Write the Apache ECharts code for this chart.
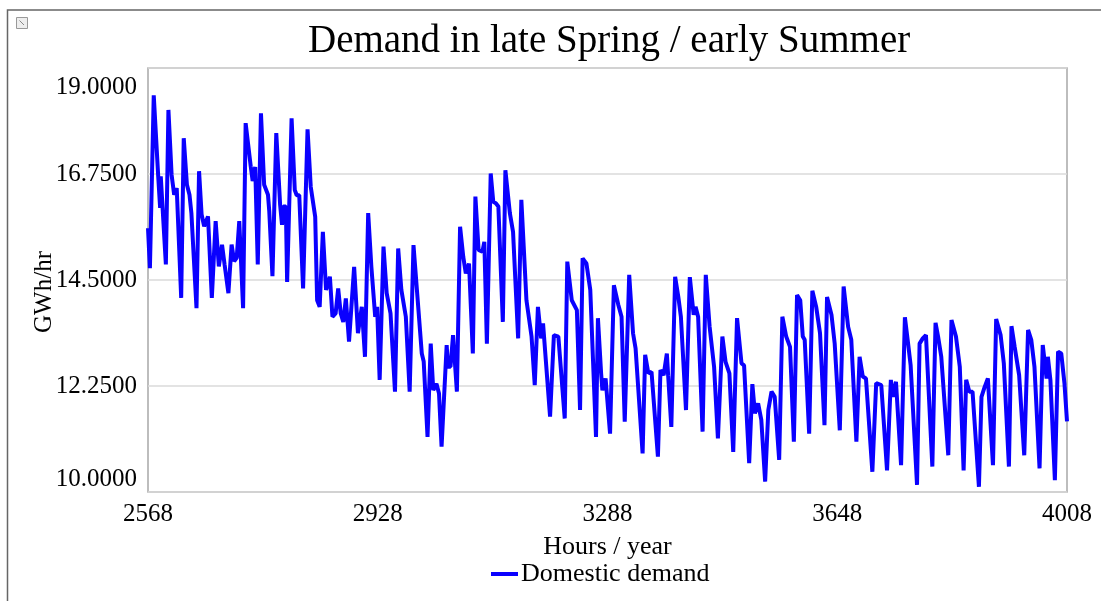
<!DOCTYPE html>
<html>
<head>
<meta charset="utf-8">
<script type="text/javascript" src="https://cdn.jsdelivr.net/npm/echarts@6/dist/echarts.min.js"></script>
<style>
 html, body { margin: 0; padding: 0; background: #fff; }
 #chart { width: 1101px; height: 601px; }
</style>
</head>
<body>
<div id="chart"></div>
<script type="text/javascript">
// hour of year for each point of the trace
var hours = [
 2568, 2571, 2577, 2584, 2587, 2588, 2590, 2596, 2600, 2605, 2609, 2613, 2620, 2624, 2629, 2633,
 2636, 2639, 2644, 2648, 2652, 2656, 2662, 2668, 2674, 2679, 2684, 2688, 2694, 2699, 2703, 2707,
 2711, 2717, 2721, 2729, 2732, 2736, 2740, 2745, 2750, 2756, 2758, 2763, 2769, 2775, 2778, 2780,
 2784, 2786, 2793, 2798, 2801, 2805, 2811, 2818, 2823, 2830, 2833, 2837, 2842, 2847, 2853, 2857,
 2862, 2866, 2870, 2874, 2878, 2883, 2891, 2897, 2903, 2908, 2913, 2918, 2924, 2927, 2931, 2937,
 2942, 2948, 2955, 2960, 2965, 2972, 2978, 2984, 2997, 3000, 3006, 3011, 3015, 3020, 3024, 3028,
 3036, 3038, 3042, 3046, 3052, 3057, 3062, 3066, 3071, 3077, 3081, 3086, 3092, 3095, 3099, 3105,
 3109, 3113, 3117, 3124, 3128, 3135, 3140, 3148, 3153, 3161, 3169, 3174, 3179, 3184, 3187, 3190,
 3198, 3204, 3211, 3213, 3221, 3225, 3232, 3240, 3245, 3249, 3255, 3261, 3270, 3273, 3278, 3280,
 3285, 3292, 3298, 3305, 3310, 3315, 3322, 3328, 3332, 3343, 3347, 3352, 3357, 3367, 3371, 3376,
 3381, 3383, 3388, 3394, 3399, 3403, 3411, 3417, 3423, 3426, 3430, 3437, 3442, 3448, 3455, 3461,
 3468, 3473, 3479, 3485, 3491, 3498, 3502, 3510, 3515, 3519, 3524, 3529, 3535, 3540, 3545, 3550,
 3557, 3562, 3568, 3574, 3580, 3585, 3590, 3594, 3597, 3604, 3609, 3615, 3621, 3628, 3632, 3639,
 3644, 3647, 3652, 3658, 3665, 3670, 3678, 3683, 3688, 3693, 3703, 3709, 3717, 3726, 3732, 3735,
 3740, 3743, 3748, 3754, 3759, 3763, 3773, 3777, 3782, 3787, 3797, 3802, 3806, 3811, 3822, 3827,
 3834, 3840, 3846, 3850, 3855, 3860, 3870, 3874, 3879, 3884, 3892, 3897, 3904, 3909, 3917, 3921,
 3926, 3933, 3941, 3947, 3952, 3957, 3965, 3970, 3976, 3978, 3982, 3989, 3994, 3999, 4004, 4008
];

// domestic demand, GWh/hr
var domesticDemand = [
 15.60, 14.75, 18.42, 16.70, 16.03, 16.70, 16.66, 14.83, 18.11, 16.73, 16.31, 16.45, 14.12, 17.51, 16.52, 16.31,
 15.92, 15.90, 13.90, 16.81, 15.89, 15.64, 15.85, 14.12, 15.75, 14.79, 15.25, 14.83, 14.22, 15.25, 14.90, 14.97,
 15.75, 13.90, 17.83, 16.91, 16.60, 16.90, 14.83, 18.04, 16.52, 16.31, 15.96, 14.58, 17.62, 16.10, 15.67, 16.06,
 16.06, 14.46, 17.93, 16.41, 16.30, 16.30, 14.32, 17.70, 16.48, 15.84, 14.07, 13.93, 15.52, 14.29, 14.57, 13.72,
 13.79, 14.32, 13.79, 13.61, 14.11, 13.19, 14.78, 13.37, 13.93, 12.87, 15.92, 14.78, 13.72, 13.93, 12.38, 15.21,
 14.22, 13.79, 12.13, 15.17, 14.29, 13.72, 12.13, 15.24, 12.94, 12.77, 11.17, 13.15, 12.16, 12.30, 12.09, 10.96,
 13.12, 12.66, 12.66, 13.33, 12.13, 15.63, 14.99, 14.64, 14.85, 12.94, 16.27, 15.14, 15.10, 15.31, 13.15, 16.76,
 16.16, 16.13, 16.06, 13.61, 16.83, 15.92, 15.52, 13.26, 16.20, 14.07, 13.30, 12.27, 13.93, 13.26, 13.58, 13.58,
 11.60, 13.33, 13.30, 13.30, 11.56, 14.89, 14.07, 13.86, 11.74, 14.96, 14.85, 14.29, 11.17, 13.69, 12.52, 12.16,
 12.41, 11.24, 14.39, 13.97, 13.72, 11.49, 14.61, 13.37, 13.05, 10.82, 12.91, 12.52, 12.55, 10.75, 12.59, 12.48,
 12.94, 12.48, 11.38, 14.57, 14.14, 13.72, 11.74, 14.56, 13.76, 13.93, 13.72, 11.28, 14.61, 13.51, 12.66, 11.14,
 13.30, 12.76, 12.52, 10.85, 13.69, 12.73, 12.69, 10.61, 12.29, 11.67, 11.88, 11.53, 10.22, 11.74, 12.13, 12.02,
 10.68, 13.72, 13.30, 13.08, 11.07, 14.18, 14.07, 13.30, 13.23, 11.24, 14.27, 13.93, 13.37, 11.42, 14.14, 13.76,
 13.15, 13.15, 11.31, 14.36, 13.51, 13.23, 11.07, 12.87, 12.45, 12.41, 10.43, 12.31, 12.27, 10.46, 12.38, 12.02,
 12.34, 12.31, 10.57, 13.71, 13.15, 12.69, 10.15, 13.15, 13.26, 13.33, 10.54, 13.59, 13.30, 12.87, 10.78, 13.65,
 13.30, 12.66, 10.46, 12.38, 12.13, 12.13, 10.11, 12.02, 12.23, 12.41, 10.57, 13.67, 13.33, 12.73, 10.54, 13.52,
 13.08, 12.48, 10.78, 13.44, 13.23, 12.66, 10.50, 13.12, 12.41, 12.87, 12.38, 10.25, 12.98, 12.94, 12.31, 11.50
];

var xTicks = [2568, 2928, 3288, 3648, 4008];
var yTicks = [10, 12.25, 14.5, 16.75, 19];

var seriesData = [];
for (var i = 0; i < hours.length; i++) {
 seriesData.push([hours[i], domesticDemand[i]]);
}

var serif = 'Liberation Serif';

var cfg = {
 animation: false,
 textStyle: { fontFamily: serif, color: '#000' },
 title: {
  text: 'Demand in late Spring / early Summer',
  left: 308,
  top: 22,
  padding: 0,
  textStyle: { fontFamily: serif, fontSize: 39, fontWeight: 'normal', color: '#000' }
 },
 graphic: [
  // outer frame
  { type: 'rect', shape: { x: 7.5, y: 10, width: 1200, height: 700 },
    style: { fill: 'none', stroke: '#666', lineWidth: 1.5 }, silent: true },
  // small window icon
  { type: 'rect', shape: { x: 16.5, y: 17.5, width: 11, height: 11 },
    style: { fill: '#eee', stroke: '#999', lineWidth: 1 }, silent: true },
  { type: 'line', shape: { x1: 19.5, y1: 20.5, x2: 24, y2: 25 },
    style: { stroke: '#888', lineWidth: 1 }, silent: true }
 ],
 legend: {
  data: ['Domestic demand'],
  left: 491,
  top: 561,
  padding: 0,
  icon: 'rect',
  itemWidth: 27,
  itemHeight: 4,
  itemGap: 10,
  textStyle: { fontFamily: serif, fontSize: 26, color: '#000', padding: [0, 0, 0, -2] }
 },
 grid: {
  left: 148,
  right: 34,
  top: 68,
  bottom: 109,
  show: true,
  borderColor: '#a8a8a8',
  borderWidth: 1.5,
  containLabel: false
 },
 xAxis: {
  type: 'value',
  min: 2568,
  max: 4008,
  name: 'Hours / year',
  nameLocation: 'middle',
  nameGap: 42,
  nameTextStyle: { fontFamily: serif, fontSize: 26, color: '#000' },
  axisLine: { show: false },
  axisTick: { show: false, customValues: xTicks },
  splitLine: { show: false },
  axisLabel: {
   customValues: xTicks,
   margin: 10,
   fontFamily: serif,
   fontSize: 25,
   color: '#000',
   formatter: function (v) { return String(v); }
  }
 },
 yAxis: {
  type: 'value',
  min: 10,
  max: 19,
  name: 'GWh/hr',
  nameLocation: 'middle',
  nameGap: 91,
  nameMoveOverlap: false,
  nameTextStyle: { fontFamily: serif, fontSize: 25, color: '#000', padding: [0, 24, 0, 0] },
  axisLine: { show: false },
  axisTick: { show: false, customValues: yTicks },
  splitLine: { show: true, lineStyle: { color: '#dadada', width: 1.5 } },
  axisLabel: {
   customValues: yTicks,
   margin: 11,
   fontFamily: serif,
   fontSize: 25,
   color: '#000',
   verticalAlignMinLabel: 'bottom',
   verticalAlignMaxLabel: 'top',
   formatter: function (v) {
    return v === 19 ? '{t|' + v.toFixed(4) + '}' : v.toFixed(4);
   },
   rich: {
    t: { fontFamily: serif, fontSize: 25, color: '#000', padding: [7, 0, 0, 0] }
   }
  }
 },
 series: [{
  name: 'Domestic demand',
  type: 'line',
  data: seriesData,
  showSymbol: false,
  symbol: 'none',
  color: '#0a00ff',
  lineStyle: { color: '#0a00ff', width: 4 }
 }]
};

var myChart = echarts.init(document.getElementById('chart'), null, { renderer: 'canvas' });
myChart.setOption(cfg);
</script>
</body>
</html>
